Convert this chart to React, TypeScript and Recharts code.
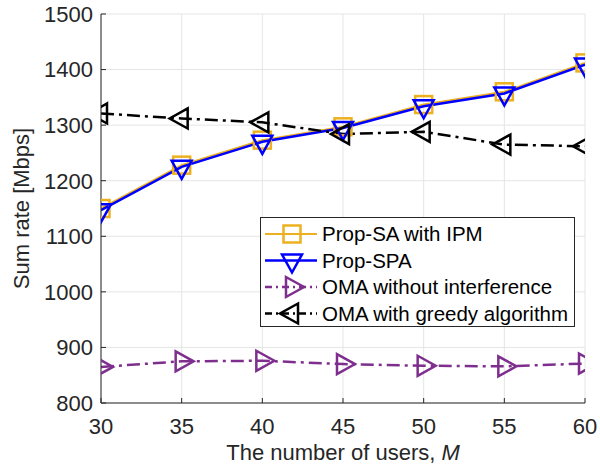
import React from 'react';
import { LineChart, Line, XAxis, YAxis, CartesianGrid, Label } from 'recharts';

const users = [30, 35, 40, 45, 50, 55, 60];
const propSA = [1150, 1228, 1273, 1297, 1337, 1360, 1412];
const propSPA = [1147, 1225, 1270, 1295, 1334, 1357, 1409];
const omaNoInterference = [865, 875, 876, 870, 867, 866, 871];
const omaGreedy = [1321, 1312, 1305, 1284, 1288, 1265, 1262];

const xTicks = [30, 35, 40, 45, 50, 55, 60];
const yTicks = [800, 900, 1000, 1100, 1200, 1300, 1400, 1500];

const seriesNames = ['Prop-SA with IPM', 'Prop-SPA', 'OMA without interference', 'OMA with greedy algorithm'];

const data = users.map((m, i) => ({
  m,
  sa: propSA[i],
  spa: propSPA[i],
  oma: omaNoInterference[i],
  greedy: omaGreedy[i],
}));

const ORANGE = '#EDB120';
const BLUE = '#0000FF';
const PURPLE = '#7E2F8E';
const BLACK = '#000000';
const AXIS = '#262626';
const FONT = '"Liberation Sans", Arial, Helvetica, sans-serif';
const DASHDOT = '13 5 3 5';

type Shape = 'square' | 'down' | 'right' | 'left';

function markerEl(shape: Shape, cx: number, cy: number, color: string, key?: any) {
  if (shape === 'square') {
    const s = 17;
    return <rect key={key} x={cx - s / 2} y={cy - s / 2} width={s} height={s} fill="none" stroke={color} strokeWidth={2.5} />;
  }
  if (shape === 'down') {
    const w = 20, h = 18;
    const pts = `${cx - w / 2},${cy - h / 3} ${cx + w / 2},${cy - h / 3} ${cx},${cy + (2 * h) / 3}`;
    return <polygon key={key} points={pts} fill="none" stroke={color} strokeWidth={2.5} />;
  }
  if (shape === 'right') {
    const w = 18, h = 20;
    const pts = `${cx - w / 3},${cy - h / 2} ${cx - w / 3},${cy + h / 2} ${cx + (2 * w) / 3},${cy}`;
    return <polygon key={key} points={pts} fill="none" stroke={color} strokeWidth={2.5} />;
  }
  const w = 18, h = 20;
  const pts = `${cx + w / 3},${cy - h / 2} ${cx + w / 3},${cy + h / 2} ${cx - (2 * w) / 3},${cy}`;
  return <polygon key={key} points={pts} fill="none" stroke={color} strokeWidth={2.5} />;
}

const makeDot = (shape: Shape, color: string) => (props: any) => {
  const { cx, cy, index } = props;
  if (cx == null || cy == null) return <g key={index} />;
  return markerEl(shape, cx, cy, color, index);
};

const legendItems: { name: string; color: string; shape: Shape; dash?: string; width: number }[] = [
  { name: seriesNames[0], color: ORANGE, shape: 'square', width: 2 },
  { name: seriesNames[1], color: BLUE, shape: 'down', width: 2.5 },
  { name: seriesNames[2], color: PURPLE, shape: 'right', dash: DASHDOT, width: 2.5 },
  { name: seriesNames[3], color: BLACK, shape: 'left', dash: DASHDOT, width: 2.5 },
];

const LegendBox = () => (
  <svg width={315} height={110} style={{ display: 'block' }}>
    <rect x={0.5} y={0.5} width={314} height={109} fill="#ffffff" stroke={AXIS} strokeWidth={1} />
    {legendItems.map((it, i) => {
      const y = 17 + i * 26.5;
      return (
        <g key={it.name}>
          <line x1={5} x2={57} y1={y} y2={y} stroke={it.color} strokeWidth={it.width} strokeDasharray={it.dash ? '7 4 2 4' : undefined} />
          {markerEl(it.shape, 32, y, it.color)}
          <text x={62} y={y} dy="0.35em" fontSize={20.5} fontFamily={FONT} fill="#000">{it.name}</text>
        </g>
      );
    })}
  </svg>
);

const XLabel = (props: any) => {
  const vb = props.viewBox || {};
  const cx = vb.x + vb.width / 2;
  return (
    <text x={cx} y={460} textAnchor="middle" fontSize={22} fontFamily={FONT} fill={AXIS}>
      The number of users, <tspan fontStyle="italic">M</tspan>
    </text>
  );
};

const YLabel = (props: any) => {
  const vb = props.viewBox || {};
  const cy = vb.y + vb.height / 2;
  return (
    <text x={0} y={0} transform={`translate(29, ${cy}) rotate(-90)`} textAnchor="middle" fontSize={22} fontFamily={FONT} fill={AXIS}>
      Sum rate [Mbps]
    </text>
  );
};

const tickStyle = { fontSize: 22, fontFamily: FONT, fill: AXIS };

export default function App() {
  return (
    <div style={{ position: 'absolute', left: 0, top: 0, width: 600, height: 468, background: '#fff' }}>
      <LineChart width={600} height={468} data={data} margin={{ top: 14, right: 15, bottom: 0, left: 0 }}>
        <CartesianGrid stroke="#e5e5e5" strokeWidth={1} verticalValues={xTicks} horizontalValues={yTicks} />
        <XAxis
          dataKey="m"
          type="number"
          domain={[30, 60]}
          ticks={xTicks}
          height={65}
          stroke={AXIS}
          tickSize={-5}
          tickMargin={20}
          tick={tickStyle}
          allowDataOverflow
        >
          <Label content={<XLabel />} />
        </XAxis>
        <XAxis
          xAxisId="top"
          orientation="top"
          dataKey="m"
          type="number"
          domain={[30, 60]}
          ticks={xTicks}
          height={0}
          stroke={AXIS}
          tickSize={-5}
          tick={false}
        />
        <YAxis
          type="number"
          domain={[800, 1500]}
          ticks={yTicks}
          width={101}
          stroke={AXIS}
          tickSize={-5}
          tickMargin={13}
          tick={tickStyle}
          allowDataOverflow
        >
          <Label content={<YLabel />} />
        </YAxis>
        <YAxis
          yAxisId="right"
          orientation="right"
          type="number"
          domain={[800, 1500]}
          ticks={yTicks}
          width={0}
          stroke={AXIS}
          tickSize={-5}
          tick={false}
        />
        <Line dataKey="sa" name={seriesNames[0]} stroke={ORANGE} strokeWidth={2} dot={makeDot('square', ORANGE)} activeDot={false} isAnimationActive={false} />
        <Line dataKey="spa" name={seriesNames[1]} stroke={BLUE} strokeWidth={2.5} dot={makeDot('down', BLUE)} activeDot={false} isAnimationActive={false} />
        <Line dataKey="oma" name={seriesNames[2]} stroke={PURPLE} strokeWidth={2.5} strokeDasharray={DASHDOT} dot={makeDot('right', PURPLE)} activeDot={false} isAnimationActive={false} />
        <Line dataKey="greedy" name={seriesNames[3]} stroke={BLACK} strokeWidth={2.5} strokeDasharray={DASHDOT} dot={makeDot('left', BLACK)} activeDot={false} isAnimationActive={false} />
      </LineChart>
      <div style={{ position: 'absolute', left: 260, top: 217, width: 315, height: 110 }}>
        <LegendBox />
      </div>
    </div>
  );
}
